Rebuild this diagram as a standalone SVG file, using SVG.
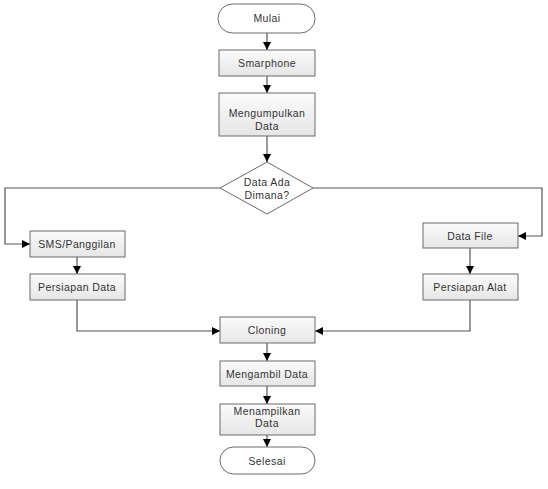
<svg xmlns="http://www.w3.org/2000/svg" width="548" height="489" viewBox="0 0 548 489">
<defs>
<linearGradient id="g" x1="0" y1="0" x2="0" y2="1">
<stop offset="0" stop-color="#fbfbfb"/>
<stop offset="1" stop-color="#e6e6e6"/>
</linearGradient>
<marker id="ah" viewBox="0 0 10 10" refX="10" refY="5" markerWidth="8" markerHeight="8" markerUnits="userSpaceOnUse" orient="auto">
<path d="M0,0 L10,5 L0,10 Z" fill="#000"/>
</marker>
<style>
.n{fill:url(#g);stroke:#6a6a6a;stroke-width:1}
.t{fill:#ffffff;stroke:#6a6a6a;stroke-width:1}
.l{font-family:"Liberation Sans","Open Sans",sans-serif;font-size:10.5px;fill:#333;text-anchor:middle;letter-spacing:0.4px}
.c{fill:none;stroke:#555;stroke-width:1.2;marker-end:url(#ah)}
</style>
</defs>
<rect width="548" height="489" fill="#fff"/>
<g id="connectors">
<path class="c" d="M267,33 V50"/>
<path class="c" d="M267,76 V93"/>
<path class="c" d="M267,136 V162"/>
<path class="c" d="M220,188 H5 V244 H30"/>
<path class="c" d="M313,188 H542 V236 H518"/>
<path class="c" d="M77,257 V274"/>
<path class="c" d="M470,248 V274"/>
<path class="c" d="M77,300 V331 H220"/>
<path class="c" d="M470,300 V331 H315"/>
<path class="c" d="M267,343 V361"/>
<path class="c" d="M267,386 V404"/>
<path class="c" d="M267,435 V447"/>
</g>
<g id="mulai"><rect class="t" x="218" y="4" width="97" height="29" rx="14.5"/><text class="l" x="267" y="22">Mulai</text></g>
<g id="smarphone"><rect class="n" x="219" y="50" width="96" height="26"/><text class="l" x="267" y="67">Smarphone</text></g>
<g id="mengumpulkan"><rect class="n" x="219" y="93" width="96" height="43"/><text class="l" x="267" y="117">Mengumpulkan</text><text class="l" x="267" y="130">Data</text></g>
<g id="decision"><polygon class="t" points="267,162 313,188 267,214 220,188"/><text class="l" x="267" y="186">Data Ada</text><text class="l" x="267" y="199">Dimana?</text></g>
<g id="sms"><rect class="n" x="30" y="231" width="95" height="26"/><text class="l" x="77" y="248">SMS/Panggilan</text></g>
<g id="persiapan-data"><rect class="n" x="30" y="274" width="95" height="26"/><text class="l" x="77" y="291">Persiapan Data</text></g>
<g id="data-file"><rect class="n" x="423" y="223" width="95" height="25"/><text class="l" x="470" y="240">Data File</text></g>
<g id="persiapan-alat"><rect class="n" x="423" y="274" width="95" height="26"/><text class="l" x="470" y="291">Persiapan Alat</text></g>
<g id="cloning"><rect class="n" x="220" y="317" width="95" height="26"/><text class="l" x="267" y="334">Cloning</text></g>
<g id="mengambil"><rect class="n" x="220" y="361" width="95" height="25"/><text class="l" x="267" y="378">Mengambil Data</text></g>
<g id="menampilkan"><rect class="n" x="220" y="404" width="95" height="31"/><text class="l" x="267" y="415">Menampilkan</text><text class="l" x="267" y="427">Data</text></g>
<g id="selesai"><rect class="t" x="220" y="447" width="95" height="27" rx="13.5"/><text class="l" x="267" y="465">Selesai</text></g>
</svg>
